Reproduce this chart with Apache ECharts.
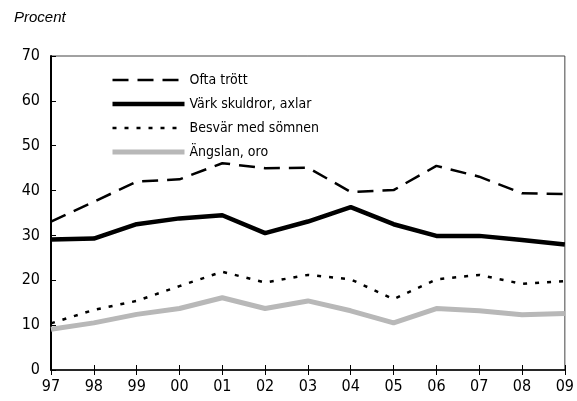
<!DOCTYPE html>
<html>
<head>
<meta charset="utf-8">
<script src="https://cdn.jsdelivr.net/npm/echarts@6/dist/echarts.min.js"></script>
<style>
  html, body { margin: 0; padding: 0; background: #fff; }
  #chart { width: 577px; height: 401px; }
</style>
</head>
<body>
<div id="chart"></div>
<script>
var years = ["97", "98", "99", "00", "01", "02", "03", "04", "05", "06", "07", "08", "09"];
var oftaTrott = [33.1, 37.5, 42.0, 42.5, 46.1, 45.0, 45.1, 39.7, 40.1, 45.5, 43.1, 39.4, 39.2];
var varkSkuldror = [29.1, 29.3, 32.5, 33.8, 34.5, 30.5, 33.1, 36.3, 32.5, 29.9, 29.9, 29.0, 28.0];
var besvarSomnen = [10.4, 13.4, 15.4, 18.7, 21.9, 19.5, 21.2, 20.2, 15.8, 20.2, 21.2, 19.2, 19.8];
var angslanOro = [9.1, 10.5, 12.4, 13.7, 16.1, 13.7, 15.4, 13.2, 10.5, 13.7, 13.2, 12.3, 12.6];

var font = "'DejaVu Sans Condensed', 'Liberation Sans Narrow', sans-serif";

var styles = {
  ofta: { color: "#000", width: 2.5, type: [16, 9] },
  vark: { color: "#000", width: 4.5, type: "solid" },
  besvar: { color: "#000", width: 2.5, type: [4, 8] },
  angslan: { color: "#b8b8b8", width: 5, type: "solid" },
};

var chart = echarts.init(document.getElementById("chart"));

function line(name, data, style) {
  return {
    name: name,
    type: "line",
    data: data,
    symbol: "none",
    showSymbol: false,
    silent: true,
    animation: false,
    lineStyle: style,
  };
}

chart.setOption({
  animation: false,
  title: {
    text: "Procent",
    left: 9,
    top: 5,
    textStyle: {
      fontFamily: "'Liberation Sans', Arial, sans-serif",
      fontStyle: "italic",
      fontWeight: "normal",
      fontSize: 15,
      color: "#000",
    },
  },
  legend: {
    orient: "vertical",
    left: 110,
    top: 73,
    padding: 0,
    itemWidth: 72,
    itemHeight: 14,
    itemGap: 10,
    itemStyle: { opacity: 0 },
    textStyle: { fontFamily: font, fontSize: 14, color: "#000" },
    data: [
      { name: "Ofta trött", lineStyle: styles.ofta },
      { name: "Värk skuldror, axlar", lineStyle: styles.vark },
      { name: "Besvär med sömnen", lineStyle: styles.besvar },
      { name: "Ängslan, oro", lineStyle: styles.angslan },
    ],
  },
  grid: {
    left: 51,
    right: 8,
    top: 56,
    bottom: 31,
    show: true,
    borderColor: "#444",
    borderWidth: 1,
  },
  xAxis: [
    {
      type: "category",
      data: years,
      boundaryGap: false,
      axisLine: { lineStyle: { color: "#000", width: 1.5 } },
      axisTick: { show: true, length: 5, lineStyle: { color: "#000" } },
      axisLabel: { fontFamily: font, fontSize: 16, color: "#000", margin: 9 },
      splitLine: { show: false },
    },
    {
      type: "category",
      data: years,
      boundaryGap: false,
      position: "bottom",
      axisLine: { show: false },
      axisTick: { show: true, inside: true, length: 5, lineStyle: { color: "#000" } },
      axisLabel: { show: false },
      splitLine: { show: false },
    },
  ],
  yAxis: {
    type: "value",
    min: 0,
    max: 70,
    interval: 10,
    axisLine: { show: true, lineStyle: { color: "#000", width: 2 } },
    axisTick: { show: true, inside: true, length: 5, lineStyle: { color: "#000" } },
    axisLabel: { fontFamily: font, fontSize: 16, color: "#000", margin: 11 },
    splitLine: { show: false },
  },
  series: [
    line("Ofta trött", oftaTrott, styles.ofta),
    line("Värk skuldror, axlar", varkSkuldror, styles.vark),
    line("Besvär med sömnen", besvarSomnen, styles.besvar),
    line("Ängslan, oro", angslanOro, styles.angslan),
  ],
});
</script>
</body>
</html>
